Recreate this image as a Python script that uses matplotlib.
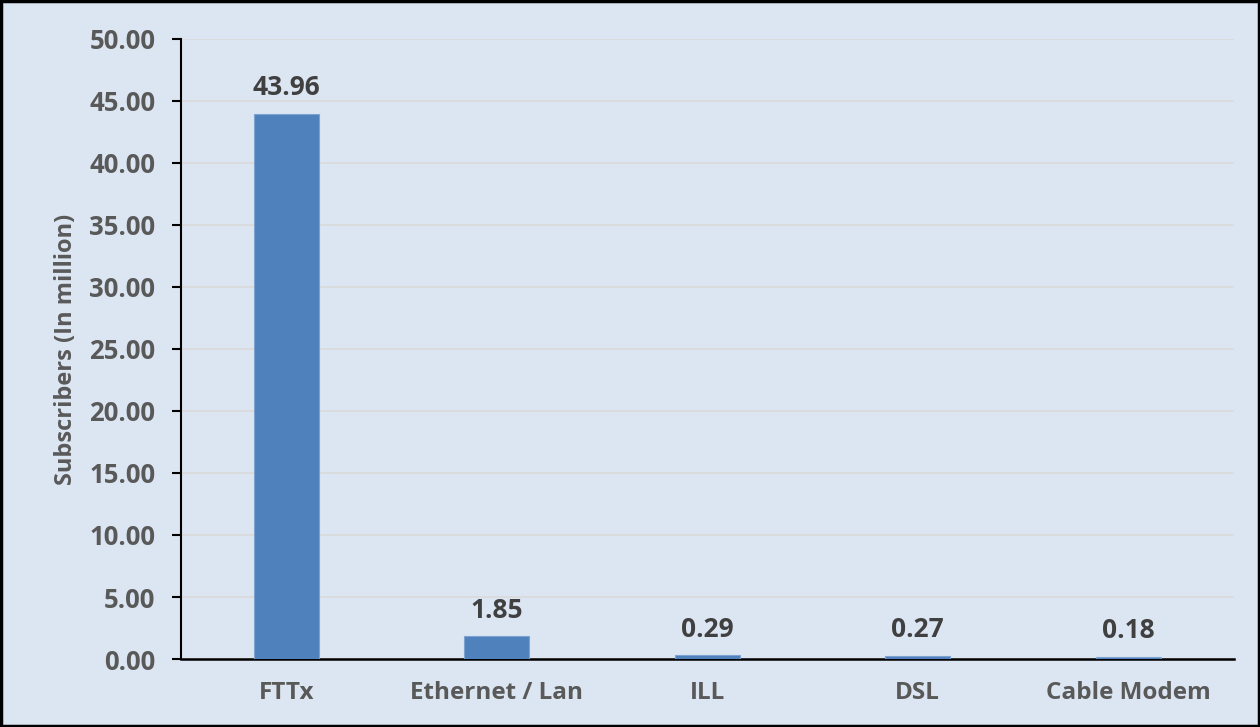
import matplotlib.pyplot as plt
import numpy as np
from matplotlib.patches import Rectangle

# --- data ---
categories = ['FTTx', 'Ethernet / Lan', 'ILL', 'DSL', 'Cable Modem']
subscribers = [43.96, 1.85, 0.29, 0.27, 0.18]
y_ticks = np.arange(0, 50.01, 5)

bg = '#DCE6F2'
bar_color = '#4F81BD'
tick_color = '#595959'
label_color = '#404040'

plt.rcParams['font.family'] = ['Open Sans', 'DejaVu Sans']

fig = plt.figure(figsize=(12.6, 7.27), dpi=100, facecolor=bg)
ax = fig.add_axes([0.1437, 0.0935, 0.8353, 0.853])
ax.set_facecolor(bg)

x = np.arange(len(categories))
bars = ax.bar(x, subscribers, width=0.31, color=bar_color, edgecolor='#7FA3D1', linewidth=0.8, zorder=3)

# value labels above bars
for rect, val in zip(bars, subscribers):
    ax.annotate(f'{val:.2f}', xy=(rect.get_x() + rect.get_width() / 2, rect.get_height()),
                xytext=(0, 9), textcoords='offset points', ha='center', va='bottom',
                fontsize=19, fontweight='bold', color=label_color)

ax.set_xlim(-0.5, len(categories) - 0.5)
ax.set_ylim(0, 50)
ax.set_yticks(y_ticks)
ax.set_yticklabels([f'{v:.2f}' for v in y_ticks])
ax.set_xticks(x)
ax.set_xticklabels(categories)

ax.yaxis.grid(True, color='#D9D9D9', linewidth=1.2, zorder=0)
ax.set_axisbelow(True)

for side in ['top', 'right']:
    ax.spines[side].set_visible(False)
ax.spines['left'].set_linewidth(1.5)
ax.spines['bottom'].set_linewidth(1.8)
ax.spines['left'].set_color('black')
ax.spines['bottom'].set_color('black')

ax.tick_params(axis='y', length=6.5, width=1.5, pad=12, labelsize=18.5, labelcolor=tick_color)
ax.tick_params(axis='x', length=0, pad=16, labelsize=17.5, labelcolor=tick_color)
for lbl in ax.get_xticklabels() + ax.get_yticklabels():
    lbl.set_fontweight('bold')

ax.set_ylabel('Subscribers (In million)', fontsize=17, fontweight='bold', color=tick_color, labelpad=8)

# black frame round the whole picture
fig.patches.append(Rectangle((0.001, 0.002), 0.998, 0.996, transform=fig.transFigure,
                             fill=False, edgecolor='black', linewidth=2.5))

fig.savefig('out.png', dpi=100, facecolor=bg)
